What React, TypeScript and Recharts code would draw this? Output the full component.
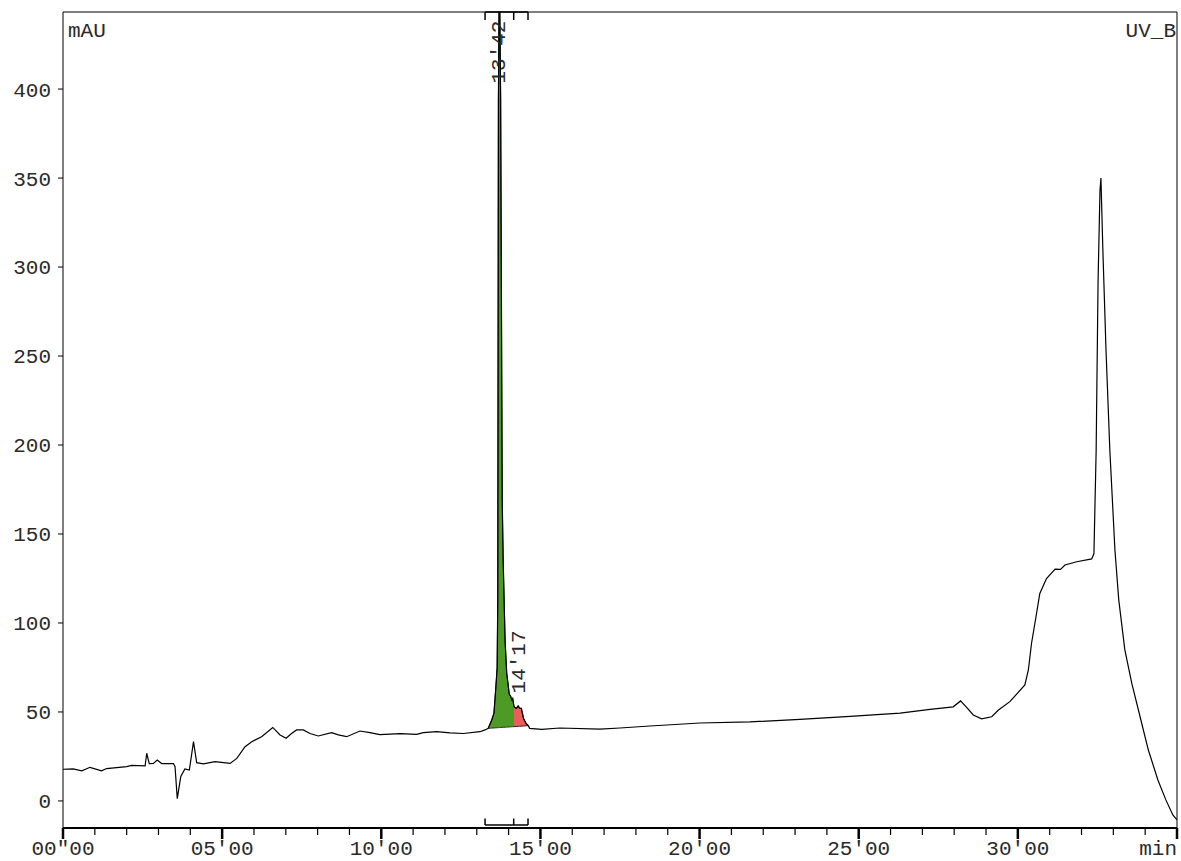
import { Area, ComposedChart, Line, ReferenceDot, ReferenceLine, XAxis, YAxis } from "recharts";

// retention time (min) and absorbance (mAU)
const traceTime = [
  0.0, 0.32, 0.59, 0.85, 1.21, 1.37, 2.0, 2.16, 2.58, 2.63, 2.71, 2.84, 2.96, 3.1, 3.47, 3.52, 3.59, 3.7,
  3.83, 3.97, 4.1, 4.2, 4.41, 4.78, 5.25, 5.46, 5.72, 5.93, 6.24, 6.59, 6.82, 7.01, 7.18, 7.34, 7.55, 7.76,
  8.02, 8.44, 8.65, 8.91, 9.33, 9.64, 9.96, 10.59, 11.11, 11.32, 11.74, 12.16, 12.58, 13.1, 13.26, 13.36,
  13.47, 13.54, 13.6, 13.64, 13.66, 13.68, 13.71, 13.75, 13.8, 13.83, 13.89, 13.94, 14.02, 14.07, 14.1,
  14.13, 14.17, 14.24, 14.3, 14.35, 14.4, 14.47, 14.55, 14.62, 14.66, 15.04, 15.61, 16.87, 17.5, 18.44,
  20.01, 21.58, 23.15, 24.73, 26.3, 27.24, 27.97, 28.2, 28.39, 28.6, 28.86, 29.18, 29.39, 29.75, 30.22,
  30.33, 30.43, 30.57, 30.69, 30.9, 31.17, 31.34, 31.48, 31.85, 32.32, 32.39, 32.46, 32.52, 32.58, 32.61,
  32.67, 32.77, 32.89, 33.05, 33.17, 33.36, 33.58, 33.84, 34.1, 34.4, 34.65, 34.87, 35.0,
];
const traceMAU = [
  17.8, 18.0, 16.9, 18.9, 16.9, 18.2, 19.3, 20.0, 19.7, 26.8, 21.0, 21.1, 23.0, 21.0, 21.0, 19.2, 1.3, 13.7,
  18.0, 17.4, 33.3, 21.5, 20.8, 22.1, 21.1, 23.9, 30.5, 33.3, 36.1, 41.3, 37.1, 35.2, 37.9, 39.9, 39.9, 37.9,
  36.5, 38.4, 37.1, 36.1, 39.3, 38.4, 37.3, 37.8, 37.4, 38.4, 38.9, 38.2, 37.9, 38.9, 39.9, 40.8,
  45.5, 49.3, 64, 75, 113, 394, 470, 394, 169, 135, 90, 72, 60, 58.6, 56.7,
  57.6, 53, 52, 53.4, 52, 52, 46.3, 43.5, 42.3, 40.8, 40.2, 41.0, 40.4, 41.0, 42.1,
  43.8, 44.4, 45.8, 47.5, 49.4, 51.5, 52.9, 56.2, 52.6, 48.3, 46.1, 47.3, 51.1, 55.8, 65.2,
  73.6, 88.6, 103.5, 116.6, 125, 130.3, 130.1, 132.6, 134.4, 136, 139, 197, 292, 343, 350,
  310, 253, 197, 141, 113, 85, 66, 47.3, 28.6, 11.8, 0.6, -7.9, -10.7,
];

// integrated peaks: drop-line baseline and split point
const baselineStart = { t: 13.36, v: 40.8 };
const baselineEnd = { t: 14.62, v: 42.3 };
const peakSplit = 14.17;

const yTicks = [0, 50, 100, 150, 200, 250, 300, 350, 400];
const timeTicks = [
  0, 1, 2, 3, 4, 5, 6, 7, 8, 9, 10, 11, 12, 13, 14, 15, 16, 17, 18, 19, 20, 21, 22, 23, 24, 25, 26, 27, 28,
  29, 30, 31, 32, 33, 34, 35,
];
const majorTicks = [0, 5, 10, 15, 20, 25, 30, 35];
const majorLabels = ['00"00', "05'00", "10'00", "15'00", "20'00", "25'00", "30'00", "min"];

const peakLabels = [
  { text: "13'42", t: 13.72, v: 420.8 },
  { text: "14'17", t: 14.33, v: 78.1 },
];

const Y_MIN = -15.2;
const Y_MAX = 443.3;
const FONT = "'Liberation Mono', 'DejaVu Sans Mono', monospace";
const INK = "#2a2a2a";

function baseAt(t: number) {
  const k = (t - baselineStart.t) / (baselineEnd.t - baselineStart.t);
  return baselineStart.v + k * (baselineEnd.v - baselineStart.v);
}

const data = traceTime.map((t, i) => {
  const v = traceMAU[i];
  const inGreen = t >= baselineStart.t && t <= peakSplit;
  const inRed = t >= peakSplit && t <= baselineEnd.t;
  return {
    t,
    v,
    green: inGreen ? [baseAt(t), v] : null,
    red: inRed ? [baseAt(t), v] : null,
  };
});

function TimeTick(props: any) {
  const { x, y, payload } = props;
  const idx = majorTicks.indexOf(payload.value);
  const major = idx >= 0;
  const label = major ? majorLabels[idx] : null;
  return (
    <g>
      <line x1={x} x2={x} y1={y} y2={y + (major ? 11 : 7)} stroke="#000" strokeWidth={major ? 2.5 : 1.2} />
      {label && (
        <text
          x={x}
          y={y + 27}
          textAnchor={payload.value === 35 ? "end" : "middle"}
          fontFamily={FONT}
          fontSize={21}
          fill={INK}
        >
          {label}
        </text>
      )}
    </g>
  );
}

const bracket = (yLine: number, yTip: number, t0: number, t1: number, tm: number) => [
  { key: "h", segment: [{ x: t0, y: yLine }, { x: t1, y: yLine }] },
  { key: "a", segment: [{ x: t0, y: yLine }, { x: t0, y: yTip }] },
  { key: "m", segment: [{ x: tm, y: yLine }, { x: tm, y: yTip }] },
  { key: "b", segment: [{ x: t1, y: yLine }, { x: t1, y: yTip }] },
];

export default function App() {
  const topBracket = bracket(Y_MAX, 438.8, 13.26, 14.61, 14.16);
  const bottomBracket = bracket(-13.5, -9.9, 13.26, 14.61, 14.16);

  return (
    <div style={{ position: "absolute", left: 0, top: 0, width: 1181, height: 861, background: "#fff" }}>
      <ComposedChart width={1181} height={861} data={data} margin={{ top: 12, right: 4, bottom: 0, left: 0 }}>
        <XAxis
          type="number"
          dataKey="t"
          domain={[0, 35]}
          ticks={timeTicks}
          interval={0}
          allowDataOverflow
          height={33}
          tickSize={0}
          tickMargin={0}
          tickLine={false}
          axisLine={{ stroke: "#000", strokeWidth: 2 }}
          tick={<TimeTick />}
        />
        <YAxis
          type="number"
          domain={[Y_MIN, Y_MAX]}
          ticks={yTicks}
          interval={0}
          allowDataOverflow
          width={63}
          tickSize={5}
          tickMargin={7}
          tickLine={{ stroke: "#000" }}
          axisLine={{ stroke: "#000" }}
          tick={{ fontFamily: FONT, fontSize: 21, fill: INK }}
        />
        <ReferenceLine y={Y_MAX} stroke="#000" ifOverflow="visible" />
        <ReferenceLine x={35} stroke="#000" ifOverflow="visible" />
        <Area
          type="linear"
          dataKey="green"
          fill="#4e9a27"
          fillOpacity={1}
          stroke="#1d3a10"
          strokeWidth={1}
          isAnimationActive={false}
        />
        <Area
          type="linear"
          dataKey="red"
          fill="#e95d5d"
          fillOpacity={1}
          stroke="#3a1a1a"
          strokeWidth={1}
          isAnimationActive={false}
        />
        <Line
          type="linear"
          dataKey="v"
          stroke="#000"
          strokeWidth={1.2}
          dot={false}
          activeDot={false}
          isAnimationActive={false}
        />
        {topBracket.map((s) => (
          <ReferenceLine key={"t" + s.key} segment={s.segment} stroke="#000" strokeWidth={1.5} ifOverflow="visible" />
        ))}
        {bottomBracket.map((s) => (
          <ReferenceLine key={"b" + s.key} segment={s.segment} stroke="#000" strokeWidth={1.5} ifOverflow="visible" />
        ))}
        {peakLabels.map((p) => (
          <ReferenceDot
            key={p.text}
            x={p.t}
            y={p.v}
            r={0}
            ifOverflow="visible"
            shape={(s: any) => (
              <text
                x={s.cx}
                y={s.cy}
                transform={`rotate(-90 ${s.cx} ${s.cy})`}
                textAnchor="middle"
                dominantBaseline="central"
                fontFamily={FONT}
                fontSize={21}
                fill={INK}
              >
                {p.text}
              </text>
            )}
          />
        ))}
        <ReferenceDot
          x={0}
          y={Y_MAX}
          r={0}
          ifOverflow="visible"
          shape={(s: any) => (
            <text x={s.cx + 5} y={s.cy + 25} fontFamily={FONT} fontSize={21} fill={INK}>
              mAU
            </text>
          )}
        />
        <ReferenceDot
          x={35}
          y={Y_MAX}
          r={0}
          ifOverflow="visible"
          shape={(s: any) => (
            <text x={s.cx - 1} y={s.cy + 25} textAnchor="end" fontFamily={FONT} fontSize={21} fill={INK}>
              UV_B
            </text>
          )}
        />
      </ComposedChart>
    </div>
  );
}
